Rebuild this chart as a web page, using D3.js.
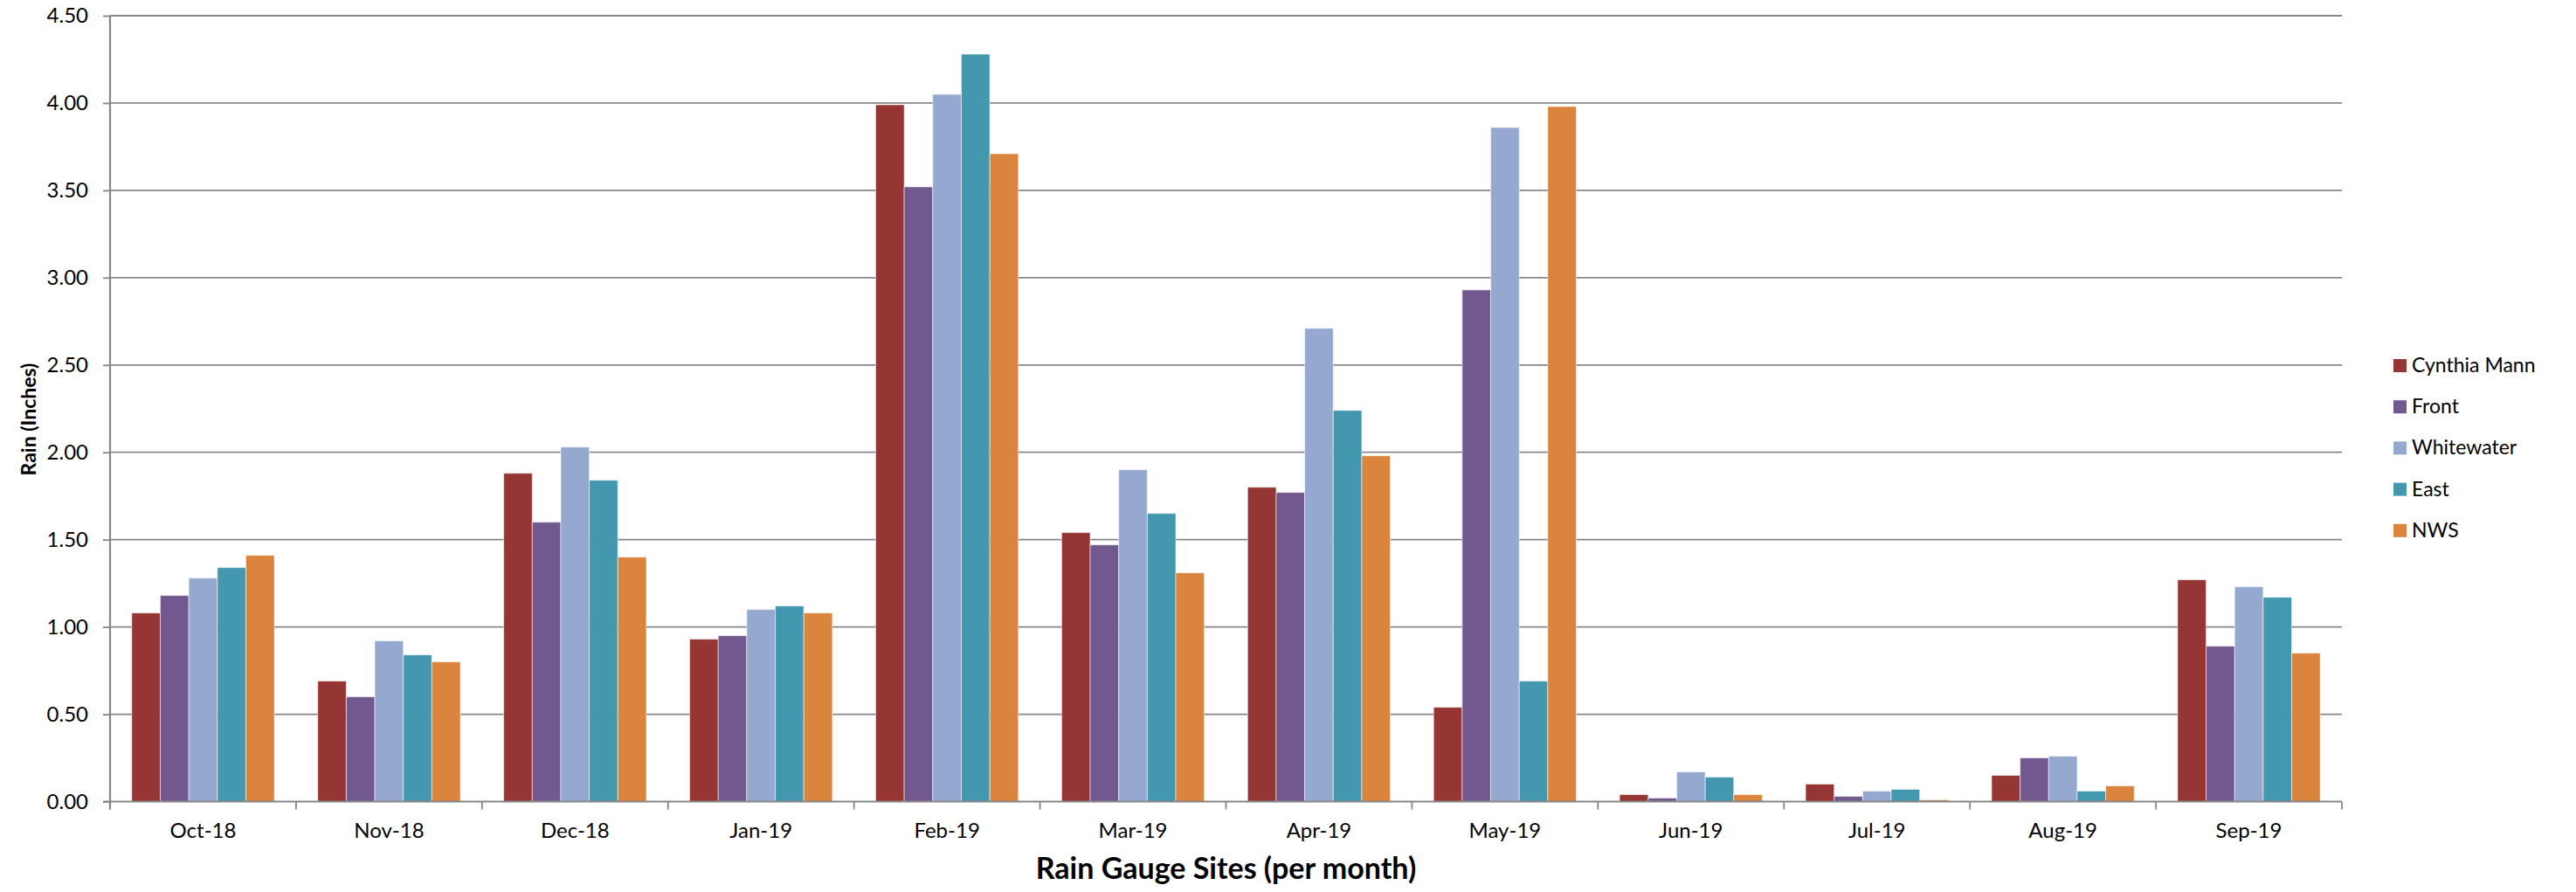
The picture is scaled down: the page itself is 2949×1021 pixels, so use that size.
<!DOCTYPE html>
<html>
<head>
<meta charset="utf-8">
<script src="https://cdn.jsdelivr.net/npm/d3@7"></script>
<style>
  html, body { margin: 0; padding: 0; background: #fff; }
  svg { display: block; }
  text { font-family: Lato, "Open Sans", "Liberation Sans", sans-serif; fill: #000; }
</style>
</head>
<body>
<svg id="chart" width="2949" height="1021"></svg>
<script>
// Monthly rainfall (inches) at each gauge site, Oct 2018 – Sep 2019
const months = ["Oct-18", "Nov-18", "Dec-18", "Jan-19", "Feb-19", "Mar-19",
                "Apr-19", "May-19", "Jun-19", "Jul-19", "Aug-19", "Sep-19"];
const sites = ["Cynthia Mann", "Front", "Whitewater", "East", "NWS"];

const cynthiaMann = [1.08, 0.69, 1.88, 0.93, 3.99, 1.54, 1.80, 0.54, 0.04, 0.10, 0.15, 1.27];
const front       = [1.18, 0.60, 1.60, 0.95, 3.52, 1.47, 1.77, 2.93, 0.02, 0.03, 0.25, 0.89];
const whitewater  = [1.28, 0.92, 2.03, 1.10, 4.05, 1.90, 2.71, 3.86, 0.17, 0.06, 0.26, 1.23];
const east        = [1.34, 0.84, 1.84, 1.12, 4.28, 1.65, 2.24, 0.69, 0.14, 0.07, 0.06, 1.17];
const nws         = [1.41, 0.80, 1.40, 1.08, 3.71, 1.31, 1.98, 3.98, 0.04, 0.01, 0.09, 0.85];

const yTicks = [0, 0.5, 1, 1.5, 2, 2.5, 3, 3.5, 4, 4.5];
const siteColors = ["#963634", "#71588F", "#95A9D0", "#4398AF", "#DB843D"];

const seriesValues = [cynthiaMann, front, whitewater, east, nws];

const svg = d3.select("#chart");
const plot = { left: 126, right: 2681, top: 18, bottom: 917.5 };
const axisColor = "#878787";

const x = d3.scaleBand().domain(months).range([plot.left, plot.right]).padding(0);
const bw = x.bandwidth();
const xSite = d3.scaleBand().domain(sites).range([bw * 0.1165, bw * 0.8835]).padding(0);
const y = d3.scaleLinear().domain([0, 4.5]).range([plot.bottom, plot.top]);
const color = d3.scaleOrdinal().domain(sites).range(siteColors);

// horizontal gridlines
svg.append("g")
  .selectAll("line")
  .data(yTicks.filter(d => d > 0))
  .join("line")
  .attr("x1", plot.left).attr("x2", plot.right)
  .attr("y1", d => y(d)).attr("y2", d => y(d))
  .attr("stroke", axisColor).attr("stroke-width", 1.8);

// grouped bars
const rows = months.map((m, i) => ({
  month: m,
  values: sites.map((s, j) => ({ site: s, value: seriesValues[j][i] }))
}));

svg.append("g")
  .selectAll("g")
  .data(rows)
  .join("g")
  .attr("transform", d => `translate(${x(d.month)},0)`)
  .selectAll("rect")
  .data(d => d.values)
  .join("rect")
  .attr("x", d => xSite(d.site))
  .attr("width", xSite.bandwidth())
  .attr("y", d => y(d.value))
  .attr("height", d => y(0) - y(d.value))
  .attr("fill", d => color(d.site))
  .attr("stroke", "rgba(255,255,255,0.55)")
  .attr("stroke-width", 1);

// y axis
const yAxis = svg.append("g")
  .attr("transform", `translate(${plot.left},0)`)
  .call(d3.axisLeft(y).tickValues(yTicks).tickFormat(d3.format(".2f"))
    .tickSize(8).tickPadding(17));
yAxis.select(".domain").remove();
yAxis.selectAll(".tick line").attr("stroke", axisColor).attr("stroke-width", 1.8);
yAxis.selectAll(".tick text").style("font-size", "24px").attr("font-family", null);
svg.append("line")
  .attr("x1", plot.left).attr("x2", plot.left)
  .attr("y1", plot.top).attr("y2", plot.bottom + 9)
  .attr("stroke", axisColor).attr("stroke-width", 2.2);

// x axis: labels centred in each month, ticks on the month boundaries
const xAxis = svg.append("g")
  .attr("transform", `translate(0,${plot.bottom})`)
  .call(d3.axisBottom(x).tickSize(0).tickPadding(24));
xAxis.select(".domain").remove();
xAxis.selectAll(".tick text").style("font-size", "24px").attr("font-family", null);

svg.append("line")
  .attr("x1", plot.left - 8).attr("x2", plot.right)
  .attr("y1", plot.bottom).attr("y2", plot.bottom)
  .attr("stroke", axisColor).attr("stroke-width", 2.2);
svg.append("g")
  .selectAll("line")
  .data(d3.range(months.length + 1))
  .join("line")
  .attr("x1", i => plot.left + i * x.step())
  .attr("x2", i => plot.left + i * x.step())
  .attr("y1", plot.bottom).attr("y2", plot.bottom + 9)
  .attr("stroke", axisColor).attr("stroke-width", 1.8);

// axis titles
svg.append("text")
  .attr("x", (plot.left + plot.right) / 2)
  .attr("y", 1006)
  .attr("text-anchor", "middle")
  .style("font-size", "34px").style("font-weight", "bold")
  .text("Rain Gauge Sites (per month)");

svg.append("text")
  .attr("transform", "translate(41,480) rotate(-90)")
  .attr("text-anchor", "middle")
  .style("font-size", "23px").style("font-weight", "bold")
  .text("Rain (Inches)");

// legend
const legend = svg.append("g").attr("transform", "translate(2740,411)");
const item = legend.selectAll("g")
  .data(sites)
  .join("g")
  .attr("transform", (d, i) => `translate(0,${i * 47.2})`);
item.append("rect")
  .attr("width", 15).attr("height", 15)
  .attr("fill", d => color(d));
item.append("text")
  .attr("x", 21).attr("y", 15)
  .style("font-size", "23px")
  .text(d => d);
</script>
</body>
</html>
